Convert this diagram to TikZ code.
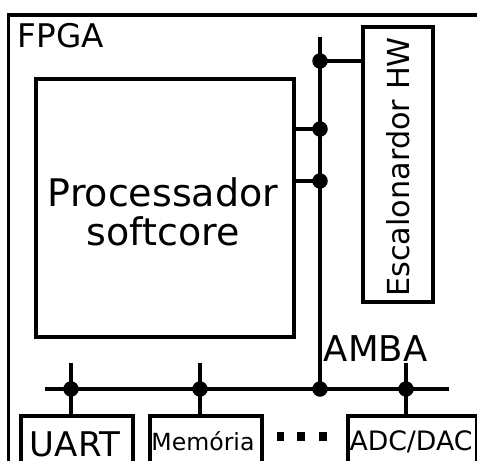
\documentclass[tikz,border=0pt]{standalone}
\usepackage{fontspec}
\setmainfont{DejaVu Sans}
\usetikzlibrary{calc}
\begin{document}
\begin{tikzpicture}[x=1bp,y=-1bp,line width=3.6bp,
  blk/.style={draw,line width=3.6bp,inner sep=0pt,rectangle},
  jdot/.style={circle,fill,inner sep=0pt,minimum size=15.5bp},
  sq/.style={fill,inner sep=0pt,minimum width=7.5bp,minimum height=8.5bp},
  fs/.style={font=\fontsize{#1bp}{#1bp}\selectfont}]
\useasboundingbox (0,0) rectangle (477,461);
\clip (0,0) rectangle (477,461);

% FPGA enclosure, open to the right and bottom
\draw[line width=3.8bp] (8.5,490) -- (8.5,15) -- (490,15);
\node[fs=32.6,anchor=base west,inner sep=0pt] (fpga) at (16,48) {FPGA};

% processor and hardware scheduler
\node[blk,minimum width=258bp,minimum height=258bp] (cpu) at (165,208) {};
\node[fs=38,align=center,text width=250bp] (cputxt) at (163,212)
  {Processador\\[1bp]softcore};
\node[blk,minimum width=70bp,minimum height=275bp] (hw) at (398,164.5) {};
\node[fs=30.3,rotate=90,inner sep=0pt] (hwtxt) at (398,167) {Escalonardor HW};

% peripheral boxes
\node[blk,minimum width=112bp,minimum height=70bp,anchor=north west] (uart) at (19,414) {};
\node[blk,minimum width=112bp,minimum height=70bp,anchor=north west] (mem) at (148,414) {};
\node[blk,minimum width=129bp,minimum height=70bp,anchor=north west] (adc) at (346,414) {};
\node[fs=34,anchor=base,inner sep=0pt] (uarttxt) at (75,456) {UART};
\node[fs=23.6,anchor=base,inner sep=0pt] (memtxt) at (203,450) {Memória};
\node[fs=26.7,anchor=base,inner sep=0pt] (adctxt) at (411,450) {ADC/DAC};
\node[fs=35.5,anchor=base west,inner sep=0pt] (amba) at (322,361) {AMBA};

% bus junctions
\coordinate (vtop) at (320,37);
\coordinate (jhw) at (320,61);
\coordinate (jc1) at (320,129);
\coordinate (jc2) at (320,181);
\coordinate (jb) at (320,389);
\coordinate (hl) at (45,389);
\coordinate (hr) at (449,389);
\coordinate (ju) at (71,389);
\coordinate (jm) at (200,389);
\coordinate (ja) at (406,389);

% AMBA bus lines
\draw (vtop) -- (jb);
\draw (hl) -- (hr);
\draw (jhw) -- (jhw -| hw.west);
\draw (jc1 -| cpu.east) -- (jc1);
\draw (jc2 -| cpu.east) -- (jc2);
\draw (ju |- 0,363) -- (ju |- uart.north);
\draw (jm |- 0,363) -- (jm |- mem.north);
\draw (ja |- 0,363) -- (ja |- adc.north);

\foreach \j in {jhw,jc1,jc2,jb,ju,jm,ja}
  \node[jdot] at (\j) {};

% ellipsis between peripherals
\node[sq] (e1) at (280.5,436.5) {};
\node[sq] (e2) at (301,436.5) {};
\node[sq] (e3) at (323,436.5) {};
\end{tikzpicture}
\end{document}
